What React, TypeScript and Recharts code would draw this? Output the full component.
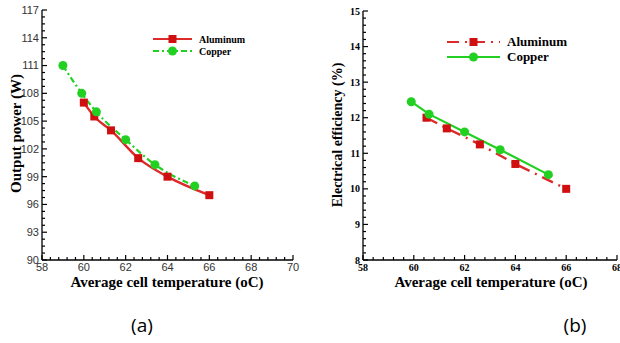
import React from "react";
import { LineChart, Line, XAxis, YAxis, Legend } from "recharts";

// (a) output power vs average cell temperature
const alTempA = [60, 60.5, 61.3, 62.6, 64, 66];
const alPowerA = [107, 105.5, 104, 101, 99, 97];
const cuTempA = [59, 59.9, 60.6, 62, 63.4, 65.3];
const cuPowerA = [111, 108, 106, 103, 100.3, 98];

// (b) electrical efficiency vs average cell temperature
const alTempB = [60.5, 61.3, 62.6, 64, 66];
const alEffB = [12.0, 11.7, 11.25, 10.7, 10.0];
const cuTempB = [59.9, 60.6, 62, 63.4, 65.3];
const cuEffB = [12.45, 12.1, 11.6, 11.1, 10.4];

const xMajorA = [58, 60, 62, 64, 66, 68, 70];
const yMajorA = [90, 93, 96, 99, 102, 105, 108, 111, 114, 117];
const xMajorB = [58, 60, 62, 64, 66, 68];
const yMajorB = [8, 9, 10, 11, 12, 13, 14, 15];

const RED = "#d01010";
const RED_LINE = "#dd2a2a";
const GREEN = "#22d022";

const SERIF = "'Liberation Serif', 'Times New Roman', serif";
const SANS = "'Liberation Sans', Arial, sans-serif";

const toRows = (xs: number[], ys: number[]) => xs.map((t, i) => ({ t, v: ys[i] }));

// major ticks plus evenly split minor ticks between them
const withMinor = (major: number[], parts: number) =>
  major.flatMap((v, i) =>
    i === major.length - 1
      ? [v]
      : Array.from({ length: parts }, (_, k) => v + ((major[i + 1] - v) * k) / parts)
  );

const isMajor = (v: number, major: number[]) => major.some((m) => Math.abs(m - v) < 1e-6);

type Side = "left" | "bottom" | "top" | "right";

const makeTick =
  (side: Side, major: number[], label?: { font: string; size: number; weight: string; fill: string }) =>
  (props: any) => {
    const { x, y, payload } = props;
    const big = isMajor(payload.value, major);
    const len = big ? 5 : 3;
    let x2 = x;
    let y2 = y;
    if (side === "left") x2 = x + len;
    if (side === "right") x2 = x - len;
    if (side === "bottom") y2 = y - len;
    if (side === "top") y2 = y + len;
    return (
      <g>
        <line x1={x} y1={y} x2={x2} y2={y2} stroke="#000" strokeWidth={1.2} />
        {big && label && side === "left" && (
          <text x={x - 3} y={y} dy="0.35em" textAnchor="end" fontFamily={label.font}
            fontSize={label.size} fontWeight={label.weight} fill={label.fill}>
            {payload.value}
          </text>
        )}
        {big && label && side === "bottom" && (
          <text x={x} y={y + 3} dy="0.75em" textAnchor="middle" fontFamily={label.font}
            fontSize={label.size} fontWeight={label.weight} fill={label.fill}>
            {payload.value}
          </text>
        )}
      </g>
    );
  };

const Square = (props: any) => {
  const { cx, cy, fill } = props;
  if (cx == null || cy == null) return <g />;
  return <rect x={cx - 4} y={cy - 4} width={8} height={8} fill={fill} />;
};

const legendContent =
  (items: { name: string; stroke: string; dash?: string; mark: "square" | "circle"; fill: string }[], font: number, gap: number, lineW: number) =>
  () => (
    <div>
      {items.map((it) => (
        <div key={it.name} style={{ display: "flex", alignItems: "center", height: gap }}>
          <svg width={lineW} height={12}>
            <line x1={0} y1={6} x2={lineW} y2={6} stroke={it.stroke} strokeWidth={2.2} strokeDasharray={it.dash} />
            {it.mark === "square" ? (
              <rect x={lineW / 2 - 4} y={2} width={8} height={8} fill={it.fill} />
            ) : (
              <circle cx={lineW / 2} cy={6} r={4.5} fill={it.fill} />
            )}
          </svg>
          <span style={{ marginLeft: 7, fontFamily: SERIF, fontWeight: "bold", fontSize: font, color: "#000" }}>{it.name}</span>
        </div>
      ))}
    </div>
  );

const abs = (left: number, top: number): React.CSSProperties => ({ position: "absolute", left, top });

export default function App() {
  const xTicksA = withMinor(xMajorA, 5);
  const yTicksA = withMinor(yMajorA, 4);
  const xTicksB = withMinor(xMajorB, 5);
  const yTicksB = withMinor(yMajorB, 5);

  const labA = { font: SANS, size: 11, weight: "normal", fill: "#333" };
  const labB = { font: SERIF, size: 10, weight: "bold", fill: "#000" };
  const axisLine = { stroke: "#000", strokeWidth: 1.3 };

  return (
    <div style={{ position: "absolute", left: 0, top: 0, width: 620, height: 343, background: "#fff", overflow: "hidden" }}>
      {/* chart (a) */}
      <div style={abs(0, 0)}>
        <LineChart width={310} height={300} margin={{ top: 10, right: 17, bottom: 28, left: 0 }}>
          <XAxis dataKey="t" type="number" domain={[58, 70]} ticks={xTicksA} interval={0} height={12}
            tickSize={0} tickMargin={0} tickLine={false} axisLine={axisLine} allowDataOverflow
            tick={makeTick("bottom", xMajorA, labA)} />
          <XAxis xAxisId="top" orientation="top" dataKey="t" type="number" domain={[58, 70]} ticks={xTicksA}
            interval={0} height={0} tickSize={0} tickMargin={0} tickLine={false} axisLine={axisLine}
            tick={makeTick("top", xMajorA)} />
          <YAxis dataKey="v" type="number" domain={[90, 117]} ticks={yTicksA} interval={0} width={42}
            tickSize={0} tickMargin={0} tickLine={false} axisLine={axisLine} allowDataOverflow
            tick={makeTick("left", yMajorA, labA)} />
          <YAxis yAxisId="r" orientation="right" type="number" domain={[90, 117]} ticks={yTicksA} interval={0}
            width={0} tickSize={0} tickMargin={0} tickLine={false} axisLine={axisLine}
            tick={makeTick("right", yMajorA)} />
          <Line data={toRows(alTempA, alPowerA)} dataKey="v" name="Aluminum" type="monotone" stroke={RED_LINE}
            strokeWidth={2.4} dot={<Square fill={RED} />} isAnimationActive={false} />
          <Line data={toRows(cuTempA, cuPowerA)} dataKey="v" name="Copper" type="monotone" stroke={GREEN}
            strokeWidth={2.2} strokeDasharray="6 3 2 3" dot={{ r: 4.5, fill: GREEN, stroke: GREEN, strokeWidth: 0 }}
            isAnimationActive={false} />
          <Legend layout="vertical" align="center" verticalAlign="middle"
            wrapperStyle={{ left: 153, top: 33, width: 110 }}
            content={legendContent([
              { name: "Aluminum", stroke: RED_LINE, mark: "square", fill: RED },
              { name: "Copper", stroke: GREEN, dash: "6 3 2 3", mark: "circle", fill: GREEN },
            ], 10, 12, 39)} />
        </LineChart>
      </div>
      <div style={{ ...abs(0, 274), width: 334, textAlign: "center", fontFamily: SERIF, fontWeight: "bold", fontSize: 15 }}>
        Average cell temperature (oC)
      </div>
      <div style={{ ...abs(-44, 125), width: 120, textAlign: "center", transform: "rotate(-90deg)", fontFamily: SERIF, fontWeight: "bold", fontSize: 15, whiteSpace: "nowrap" }}>
        Output power (W)
      </div>

      {/* chart (b) */}
      <div style={abs(310, 0)}>
        <LineChart width={310} height={300} margin={{ top: 11, right: 3, bottom: 28, left: 0 }}>
          <XAxis dataKey="t" type="number" domain={[58, 68]} ticks={xTicksB} interval={0} height={12}
            tickSize={0} tickMargin={0} tickLine={false} axisLine={axisLine} allowDataOverflow
            tick={makeTick("bottom", xMajorB, labB)} />
          <XAxis xAxisId="top" orientation="top" dataKey="t" type="number" domain={[58, 68]} ticks={xTicksB}
            interval={0} height={0} tickSize={0} tickMargin={0} tickLine={false} axisLine={axisLine}
            tick={makeTick("top", xMajorB)} />
          <YAxis dataKey="v" type="number" domain={[8, 15]} ticks={yTicksB} interval={0} width={53}
            tickSize={0} tickMargin={0} tickLine={false} axisLine={axisLine} allowDataOverflow
            tick={makeTick("left", yMajorB, labB)} />
          <YAxis yAxisId="r" orientation="right" type="number" domain={[8, 15]} ticks={yTicksB} interval={0}
            width={0} tickSize={0} tickMargin={0} tickLine={false} axisLine={axisLine}
            tick={makeTick("right", yMajorB)} />
          <Line data={toRows(alTempB, alEffB)} dataKey="v" name="Aluminum" type="linear" stroke={RED_LINE}
            strokeWidth={2.4} strokeDasharray="12 6 2 6" dot={<Square fill={RED} />} isAnimationActive={false} />
          <Line data={toRows(cuTempB, cuEffB)} dataKey="v" name="Copper" type="linear" stroke={GREEN}
            strokeWidth={2.2} dot={{ r: 4.5, fill: GREEN, stroke: GREEN, strokeWidth: 0 }} isAnimationActive={false} />
          <Legend layout="vertical" align="center" verticalAlign="middle"
            wrapperStyle={{ left: 137, top: 34, width: 150 }}
            content={legendContent([
              { name: "Aluminum", stroke: RED_LINE, dash: "12 6 2 6", mark: "square", fill: RED },
              { name: "Copper", stroke: GREEN, mark: "circle", fill: GREEN },
            ], 13, 15, 53)} />
        </LineChart>
      </div>
      <div style={{ ...abs(310, 274), width: 362, textAlign: "center", fontFamily: SERIF, fontWeight: "bold", fontSize: 15 }}>
        Average cell temperature (oC)
      </div>
      <div style={{ ...abs(338 - 90, 127), width: 180, textAlign: "center", transform: "rotate(-90deg)", fontFamily: SERIF, fontWeight: "bold", fontSize: 14, whiteSpace: "nowrap" }}>
        Electrical efficiency (%)
      </div>

      {/* captions */}
      <div style={{ ...abs(112, 312), width: 60, textAlign: "center", fontFamily: "'Open Sans', sans-serif", fontSize: 19 }}>(a)</div>
      <div style={{ ...abs(545, 312), width: 60, textAlign: "center", fontFamily: "'Open Sans', sans-serif", fontSize: 19 }}>(b)</div>
    </div>
  );
}
